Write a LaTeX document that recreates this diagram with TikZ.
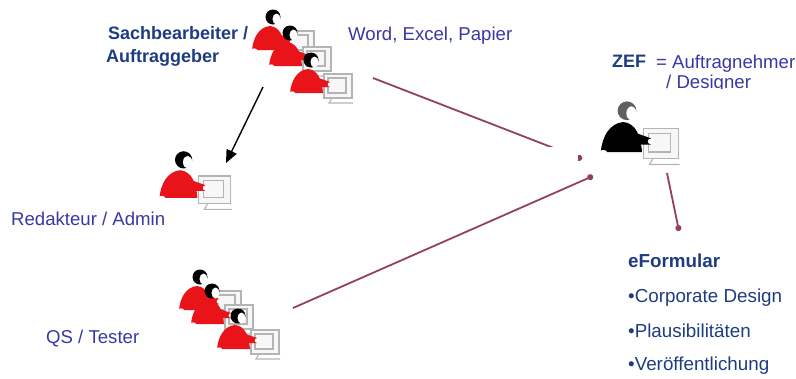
\documentclass[tikz,border=0pt]{standalone}
\usepackage{fontspec}
\setmainfont{Liberation Sans}
\usetikzlibrary{arrows.meta}

\definecolor{navy}{HTML}{1E3C80}
\definecolor{violetblue}{HTML}{3838A4}
\definecolor{figred}{HTML}{E8141A}
\definecolor{linkred}{HTML}{94405A}
\definecolor{screengray}{HTML}{B4B4B4}

\tikzset{
  x=1pt, y=-1pt,
  lbl/.style={font=\fontsize{18.6}{20}\selectfont, text=violetblue, inner sep=0pt, anchor=base west},
  boldlbl/.style={font=\fontsize{18}{20}\selectfont\bfseries, text=navy, inner sep=0pt, anchor=base west},
  listlbl/.style={font=\fontsize{18.8}{20}\selectfont, text=navy, inner sep=0pt, anchor=base west},
  link/.style={draw=linkred, line width=1.8pt, -{Circle[length=6pt]}},
  hand/.style={draw=black, line width=1.4pt, -{Triangle[length=13pt,width=11pt]}},
  monitorline/.style={draw=screengray, line width=1.1pt},
  pics/worker/.style 2 args={code={
    % monitor with keyboard
    \draw[monitorline, fill=gray!6] (17,-7) rectangle (45,17);
    \draw[monitorline] (21,-3) rectangle (39,12);
    \draw[monitorline] (25,17) -- (22,22) -- (46,22);
    % body with arm
    \fill[#1] (-17,12) .. controls (-16,0) and (-10,-11) .. (1,-12)
              .. controls (11,-11) and (15,-1) .. (16,12) -- cycle;
    \fill[#1] (6,-5) -- (23,1) -- (23,6) -- (8,6) -- cycle;
    \fill[white] (23,3.5) circle (2.3);
    \fill[white] (-15,12) ellipse (3 and 1.6);
    % head
    \fill[#2] (4,-21) circle (7.5);
    \fill[white] (7.5,-19) ellipse (4 and 5.5);
  }}
}

\begin{document}
\begin{tikzpicture}
\useasboundingbox (0,0) rectangle (796,378);

% connection end points
\coordinate (sachout) at (373,78);
\coordinate (zefin1) at (582,159);
\coordinate (qsout) at (293,308);
\coordinate (zefin2) at (593,176);
\coordinate (zefout) at (667,173);
\coordinate (formtop) at (679,231);
\coordinate (arrstart) at (263,87);
\coordinate (redin) at (226,163);

% links towards and from the designer
\draw[link] (sachout) -- (zefin1);
\draw[link] (qsout) -- (zefin2);
\draw[link] (zefout) -- (formtop);
\fill[white] (420,147) rectangle (578,172);

% commissioning clerks
\pic (sach1) at (269,38) {worker={figred}{black}};
\pic (sach2) at (286,54) {worker={figred}{black}};
\pic (sach3) at (307,81) {worker={figred}{black}};

% editor
\pic[scale=1.15] (red) at (179,184) {worker={figred}{black}};

% testers
\pic (qs1) at (196,298) {worker={figred}{black}};
\pic (qs2) at (208,312) {worker={figred}{black}};
\pic (qs3) at (234,337) {worker={figred}{black}};

% designer
\pic[scale=1.25] (zef) at (622,137) {worker={black}{gray!75!black}};

% assignment arrow
\draw[hand] (arrstart) -- (redin);

% labels
\node[boldlbl] (sachA) at (108,39) {Sachbearbeiter /};
\node[boldlbl] (sachB) at (106,62) {Auftraggeber};
\node[lbl] (tools) at (348,40) {Word, Excel, Papier};
\node[lbl] (redlbl) at (11,225) {Redakteur / Admin};
\node[lbl] (qslbl) at (46,343) {QS / Tester};
\node[boldlbl] (zeflbl) at (612,67) {ZEF};
\node[lbl] (zefrole) at (656,68) {= Auftragnehmer};
\node[lbl] (zefrole2) at (666,88) {/ Designer};
\fill[white] (660,89.2) rectangle (770,98);

\node[boldlbl, font=\fontsize{18.8}{20}\selectfont\bfseries] (form) at (628,267) {eFormular};
\node[listlbl] (item1) at (628,302) {•Corporate Design};
\node[listlbl] (item2) at (628,337) {•Plausibilitäten};
\node[listlbl] (item3) at (628,370) {•Veröffentlichung};
\end{tikzpicture}
\end{document}
